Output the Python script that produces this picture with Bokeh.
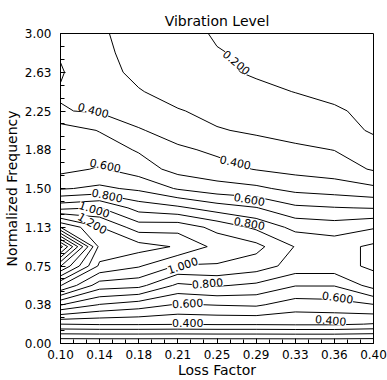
import numpy as np
from bokeh.plotting import figure
from bokeh.models import Range1d, FixedTicker, LabelSet, ColumnDataSource
from bokeh.core.properties import value
from bokeh.embed import file_html
from bokeh.resources import INLINE

# Grid of the computation: loss factor (x) and normalized frequency (y)
loss_factor = [0.1, 0.1375, 0.175, 0.2125, 0.25, 0.2875, 0.325, 0.3625, 0.4]
norm_freq = [0.0, 0.1875, 0.375, 0.5625, 0.75, 0.9375, 1.125, 1.3125, 1.5,
             1.6875, 1.875, 2.0625, 2.25, 2.4375, 2.625, 2.8125, 3.0]

# Vibration level along frequency (bottom to top) for each loss factor
vib_0100 = [0.00, 0.40, 0.805, 1.205, 1.605, 2.04, 1.40, 0.97, 0.69, 0.57, 0.56, 0.55, 0.405, 0.393, 0.408, 0.392, 0.38]
vib_0138 = [0.00, 0.41, 0.695, 0.95, 1.18, 1.27, 1.205, 1.005, 0.72, 0.61, 0.55, 0.495, 0.39, 0.35, 0.33, 0.32, 0.31]
vib_0175 = [0.00, 0.41, 0.65, 0.93, 1.11, 1.24, 1.05, 0.86, 0.68, 0.55, 0.49, 0.41, 0.34, 0.305, 0.28, 0.27, 0.27]
vib_0213 = [0.00, 0.405, 0.59, 0.78, 0.99, 1.19, 1.06, 0.82, 0.59, 0.465, 0.419, 0.35, 0.305, 0.27, 0.25, 0.24, 0.235]
vib_0250 = [0.00, 0.41, 0.605, 0.81, 0.99, 1.07, 0.97, 0.75, 0.54, 0.437, 0.38, 0.305, 0.28, 0.245, 0.215, 0.205, 0.19]
vib_0288 = [0.00, 0.41, 0.615, 0.78, 0.95, 1.03, 0.88, 0.705, 0.52, 0.395, 0.33, 0.29, 0.26, 0.22, 0.19, 0.185, 0.17]
vib_0325 = [0.00, 0.415, 0.55, 0.705, 0.86, 0.895, 0.77, 0.62, 0.47, 0.37, 0.32, 0.26, 0.235, 0.198, 0.175, 0.17, 0.16]
vib_0363 = [0.00, 0.415, 0.56, 0.705, 0.86, 0.86, 0.75, 0.605, 0.45, 0.35, 0.298, 0.235, 0.21, 0.18, 0.165, 0.16, 0.15]
vib_0400 = [0.00, 0.395, 0.595, 0.84, 0.92, 0.92, 0.79, 0.595, 0.42, 0.29, 0.235, 0.19, 0.18, 0.17, 0.155, 0.15, 0.14]

levels = [0.1, 0.2, 0.3, 0.4, 0.5, 0.6, 0.7, 0.8, 0.9, 1.0,
          1.1, 1.2, 1.3, 1.4, 1.5, 1.6, 1.7, 1.8, 1.9, 2.0]

# In-line contour labels: text, position and slope (degrees)
label_text = ["0.200", "0.400", "0.400", "0.600", "0.600", "0.800", "0.800", "1.000",
              "1.200", "1.000", "0.800", "0.600", "0.400", "0.600", "0.400"]
label_x = [0.2686, 0.1314, 0.2676, 0.1429, 0.2810, 0.1448, 0.2810, 0.1324,
           0.1305, 0.2171, 0.2409, 0.2219, 0.2219, 0.3657, 0.3590]
label_y = [2.719, 2.255, 1.752, 1.7225, 1.3935, 1.432, 1.161, 1.297,
           1.161, 0.755, 0.581, 0.387, 0.203, 0.445, 0.2226]
label_deg = [-40, -15, -12, -12, -10, -12, -10, -18, -30, 18, 5, 3, 0, -8, -5]

x_ticks = [0.1, 0.1375, 0.175, 0.2125, 0.25, 0.2875, 0.325, 0.3625, 0.4]
x_tick_labels = ["0.10", "0.14", "0.18", "0.21", "0.25", "0.29", "0.33", "0.36", "0.40"]
y_ticks = [0.0, 0.375, 0.75, 1.125, 1.5, 1.875, 2.25, 2.625, 3.0]
y_tick_labels = ["0.00", "0.38", "0.75", "1.13", "1.50", "1.88", "2.25", "2.63", "3.00"]

FONT = "DejaVu Sans"

z = np.column_stack([vib_0100, vib_0138, vib_0175, vib_0213, vib_0250,
                     vib_0288, vib_0325, vib_0363, vib_0400])

p = figure(width=387, height=380, output_backend="svg", toolbar_location=None,
           x_range=Range1d(0.1, 0.4), y_range=Range1d(0.0, 3.0),
           min_border_left=58, min_border_right=14, min_border_top=33, min_border_bottom=37,
           background_fill_color="white", border_fill_color="white")
p.grid.visible = False
p.outline_line_color = "black"
p.outline_line_width = 1

p.title.text = "Vibration Level"
p.title.align = "center"
p.title.text_font = FONT
p.title.text_font_size = "14px"
p.title.text_font_style = "normal"
p.title.text_color = "black"
p.title.standoff = 9

x_minor = [round(0.1 + 0.0125 * i, 4) for i in range(25)]
y_minor = [round(0.125 * i, 4) for i in range(25)]
p.xaxis.ticker = FixedTicker(ticks=x_ticks, minor_ticks=x_minor)
p.yaxis.ticker = FixedTicker(ticks=y_ticks, minor_ticks=y_minor)
p.xaxis.major_label_overrides = dict(zip(x_ticks, x_tick_labels))
p.yaxis.major_label_overrides = dict(zip(y_ticks, y_tick_labels))

for ax in (p.xaxis, p.yaxis):
    ax.major_tick_in = 5
    ax.major_tick_out = 0
    ax.minor_tick_in = 4
    ax.minor_tick_out = 0
    ax.axis_line_color = "black"
    ax.major_tick_line_color = "black"
    ax.minor_tick_line_color = "black"
    ax.major_label_text_font = FONT
    ax.major_label_text_font_size = "12px"
    ax.major_label_text_color = "black"
    ax.axis_label_text_font = FONT
    ax.axis_label_text_font_size = "14px"
    ax.axis_label_text_font_style = "normal"
    ax.axis_label_text_color = "black"
    ax.axis_label_standoff = 2

p.xaxis.axis_label = "Loss Factor"
p.yaxis.axis_label = "Normalized Frequency"
p.xaxis.major_label_standoff = 6
p.yaxis.major_label_standoff = 9
p.xaxis.axis_label_standoff = 0

p.contour(loss_factor, norm_freq, z, levels, line_color="black", line_width=1)

labels = ColumnDataSource(dict(x=label_x, y=label_y, text=label_text,
                               angle=[np.radians(a) for a in label_deg]))
p.add_layout(LabelSet(x="x", y="y", text="text", angle="angle", source=labels,
                      text_align="center", text_baseline="middle",
                      text_font=value(FONT), text_font_size=value("11px"),
                      text_color="black", background_fill_color="white"))

open("out.html", "w").write(file_html(p, INLINE))
